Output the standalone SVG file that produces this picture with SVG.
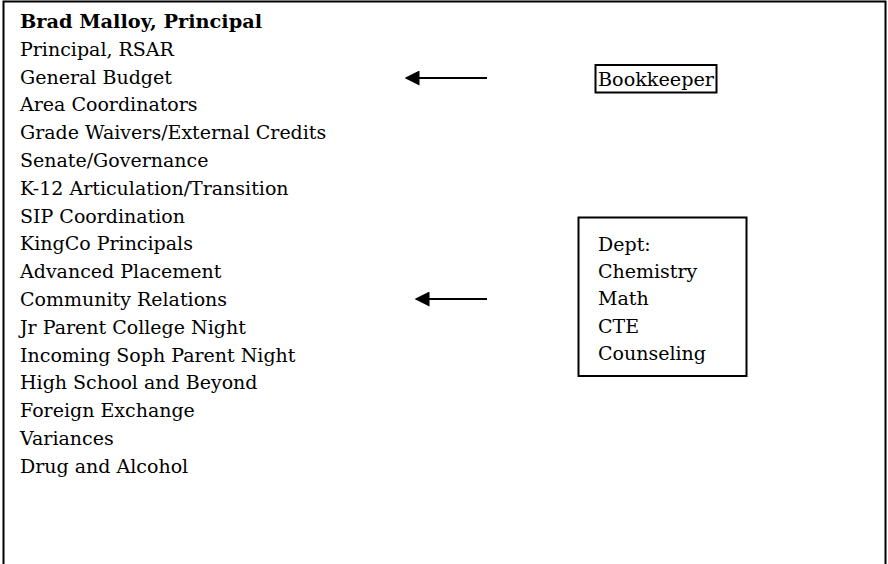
<svg xmlns="http://www.w3.org/2000/svg" width="888" height="564" viewBox="0 0 888 564">
<defs>
<style>
.t{font-family:"DejaVu Serif","Liberation Serif",serif;font-size:19px;fill:#000}
.b{font-weight:bold}
.box{fill:none;stroke:#000;stroke-width:2}
.ln{stroke:#000;stroke-width:2;fill:none}
</style>
<marker id="ah" viewBox="0 0 10 10" refX="1" refY="5" markerWidth="7.5" markerHeight="7.5" markerUnits="strokeWidth" orient="auto-start-reverse">
<path d="M0,0 L10,5 L0,10 z" fill="#000"/>
</marker>
</defs>
<rect x="0" y="0" width="888" height="564" fill="#fff"/>
<path class="ln" d="M3.5,566 V1.5 H885.5 V566"/>
<g id="principal">
<text class="t b" x="20" y="28" textLength="242" lengthAdjust="spacingAndGlyphs">Brad Malloy, Principal</text>
<text class="t" x="20" y="56">Principal, RSAR</text>
<text class="t" x="20" y="84">General Budget</text>
<text class="t" x="20" y="111">Area Coordinators</text>
<text class="t" x="20" y="139">Grade Waivers/External Credits</text>
<text class="t" x="20" y="167">Senate/Governance</text>
<text class="t" x="20" y="195">K-12 Articulation/Transition</text>
<text class="t" x="20" y="223">SIP Coordination</text>
<text class="t" x="20" y="250">KingCo Principals</text>
<text class="t" x="20" y="278">Advanced Placement</text>
<text class="t" x="20" y="306">Community Relations</text>
<text class="t" x="20" y="334">Jr Parent College Night</text>
<text class="t" x="20" y="362">Incoming Soph Parent Night</text>
<text class="t" x="20" y="389">High School and Beyond</text>
<text class="t" x="20" y="417">Foreign Exchange</text>
<text class="t" x="20" y="445">Variances</text>
<text class="t" x="20" y="473">Drug and Alcohol</text>
</g>
<g id="bookkeeper">
<rect class="box" x="595.5" y="65" width="121" height="27.5"/>
<text class="t" x="598" y="86" textLength="116" lengthAdjust="spacingAndGlyphs">Bookkeeper</text>
</g>
<g id="dept">
<rect class="box" x="578.5" y="217.5" width="168" height="158.5"/>
<text class="t" x="598" y="251">Dept:</text>
<text class="t" x="598" y="278">Chemistry</text>
<text class="t" x="598" y="305">Math</text>
<text class="t" x="598" y="333">CTE</text>
<text class="t" x="598" y="360">Counseling</text>
</g>
<g id="connectors">
<line class="ln" x1="487" y1="78" x2="418" y2="78" marker-end="url(#ah)"/>
<line class="ln" x1="487" y1="299" x2="428" y2="299" marker-end="url(#ah)"/>
</g>
</svg>
